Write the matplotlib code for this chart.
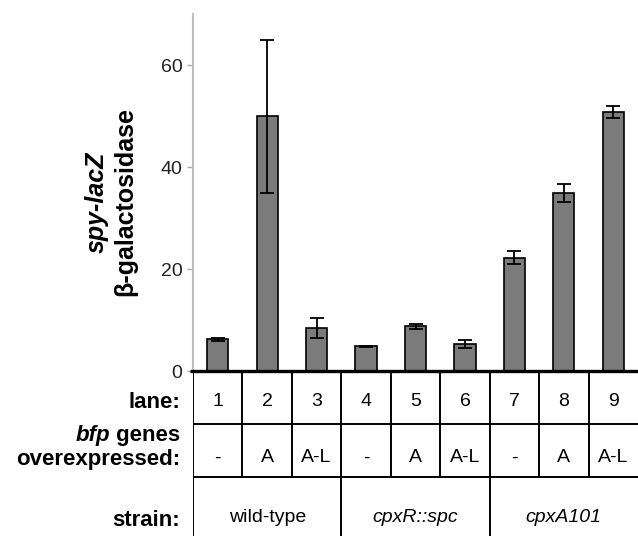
import numpy as np
import matplotlib.pyplot as plt

# lanes 1-9, spy-lacZ activity with error bars
lanes = ["1", "2", "3", "4", "5", "6", "7", "8", "9"]
activity = [6.2, 50.0, 8.4, 4.9, 8.8, 5.3, 22.2, 34.9, 50.8]
errors = [0.3, 15.0, 1.9, 0.1, 0.5, 0.8, 1.3, 1.7, 1.1]
bfp = ["-", "A", "A-L", "-", "A", "A-L", "-", "A", "A-L"]
strains = ["wild-type", "cpxR::spc", "cpxA101"]
strain_style = ["normal", "italic", "italic"]
yticks = [0, 20, 40, 60]

plt.rcParams['font.family'] = ['Liberation Sans', 'DejaVu Sans']

W, H = 638, 536
fig = plt.figure(figsize=(W / 100, H / 100), dpi=100)
x = np.arange(len(lanes))
left = 193 / W

# bar chart
ax = fig.add_axes([left, (H - 371) / H, 1 - left, (371 - 14) / H])
ax.bar(x, activity, width=0.43, color="#7b7b7b", edgecolor="black", linewidth=1.2)
ax.errorbar(x, activity, yerr=errors, fmt="none", ecolor="black",
            elinewidth=1.3, capsize=5, capthick=1.3)
ax.set_xlim(-0.5, 8.5)
ax.set_ylim(0, 70)
ax.set_xticks([])
ax.set_yticks(yticks)
ax.tick_params(axis="y", colors="#aaaaaa", labelcolor="#222222",
               labelsize=14, length=4, width=1)
for s in ["top", "right", "bottom"]:
    ax.spines[s].set_visible(False)
ax.spines["left"].set_color("#bdbdbd")
ax.spines["left"].set_linewidth(1.5)

fig.text(97 / W, 1 - 202 / H, "spy-lacZ", rotation=90, ha="center", va="center",
         fontsize=18, fontweight="bold", fontstyle="italic")
fig.text(125 / W, 1 - 202 / H, "β-galactosidase", rotation=90, ha="center", va="center",
         fontsize=18, fontweight="bold")

# table under the bars (pixel rows measured from the x axis down)
tab = fig.add_axes([left, 0, 1 - left, (H - 371) / H])
tab.set_xlim(-0.5, 8.5)
tab.set_ylim(H - 371, 0)
tab.axis("off")

row1, row2 = 53, 106
tab.plot([-0.56, 8.5], [0, 0], color="black", lw=2.4, clip_on=False, solid_capstyle="butt")
tab.plot([-0.5, 8.5], [row1, row1], color="black", lw=1.4)
tab.plot([-0.5, 8.5], [row2, row2], color="black", lw=1.4)
for b in np.arange(-0.5, 8.5):
    bottom = H - 371 if b in (-0.5, 2.5, 5.5) else row2
    tab.plot([b, b], [0, bottom], color="black", lw=1.4)

for i in x:
    tab.text(i, 31, lanes[i], ha="center", va="center", fontsize=14)
    tab.text(i, 87, bfp[i], ha="center", va="center", fontsize=14)
for g in range(3):
    tab.text(3 * g + 1, 147, strains[g], ha="center", va="center",
             fontsize=14, fontstyle=strain_style[g])

# row labels on the left
lx = 180 / W
fig.text(lx, 1 - 402 / H, "lane:", ha="right", va="center", fontsize=16, fontweight="bold")
genes = fig.text(lx, 1 - 436 / H, " genes", ha="right", va="center", fontsize=16, fontweight="bold")
fig.canvas.draw()
gx = genes.get_window_extent().x0 / W
fig.text(gx, 1 - 436 / H, "bfp", ha="right", va="center", fontsize=16,
         fontweight="bold", fontstyle="italic")
fig.text(lx, 1 - 460 / H, "overexpressed:", ha="right", va="center", fontsize=16, fontweight="bold")
fig.text(lx, 1 - 520 / H, "strain:", ha="right", va="center", fontsize=16, fontweight="bold")

fig.savefig("out.png", dpi=100)
